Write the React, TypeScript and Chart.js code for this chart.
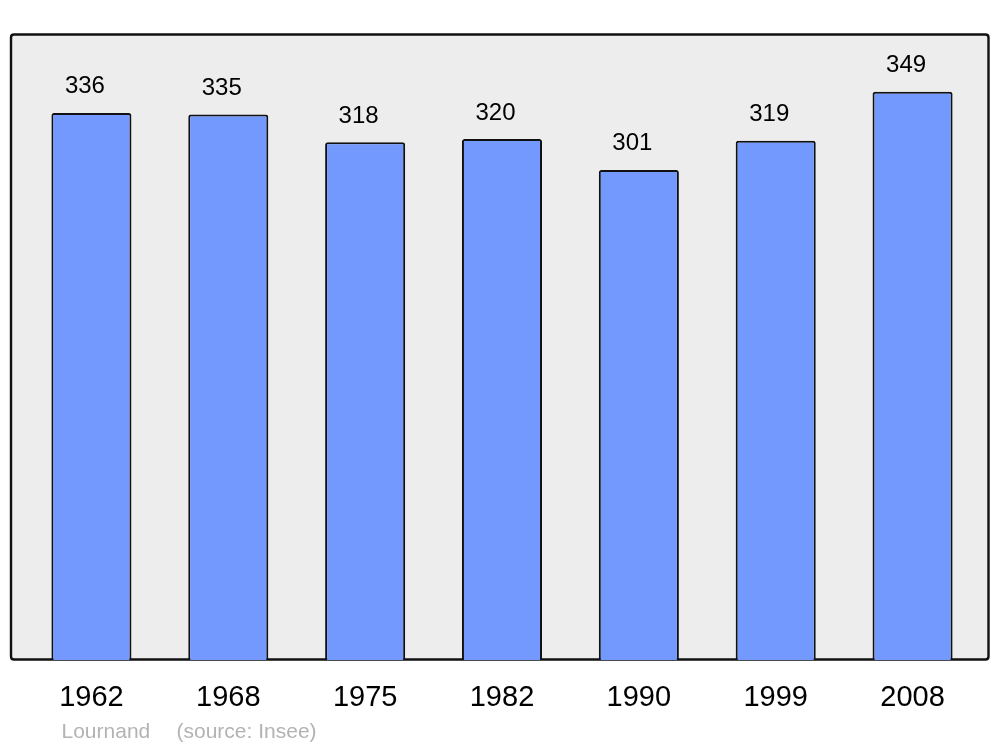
import React, { useEffect, useRef } from "react";
import { Chart, registerables } from "chart.js";

Chart.register(...registerables);

const years = ["1962", "1968", "1975", "1982", "1990", "1999", "2008"];
const population = [336, 335, 318, 320, 301, 319, 349];
const footerName = "Lournand";
const footerSource = "(source: Insee)";

const framePlugin = {
  id: "frame",
  beforeDatasetsDraw(chart: any) {
    const { ctx } = chart;
    const l = 11, r = 988.5, t = 34.5, b = 659.5, rad = 3;
    ctx.save();
    ctx.beginPath();
    ctx.moveTo(l + rad, t);
    ctx.lineTo(r - rad, t);
    ctx.quadraticCurveTo(r, t, r, t + rad);
    ctx.lineTo(r, b - rad);
    ctx.quadraticCurveTo(r, b, r - rad, b);
    ctx.lineTo(l + rad, b);
    ctx.quadraticCurveTo(l, b, l, b - rad);
    ctx.lineTo(l, t + rad);
    ctx.quadraticCurveTo(l, t, l + rad, t);
    ctx.closePath();
    ctx.fillStyle = "#ededed";
    ctx.fill();
    ctx.lineWidth = 2.4;
    ctx.strokeStyle = "#111111";
    ctx.stroke();
    ctx.restore();
  },
  afterDatasetsDraw(chart: any) {
    const { ctx } = chart;
    const meta = chart.getDatasetMeta(0);
    ctx.save();
    ctx.font = "24px 'Liberation Sans', Arial, sans-serif";
    ctx.fillStyle = "#000";
    ctx.textAlign = "center";
    ctx.textBaseline = "alphabetic";
    meta.data.forEach((bar: any, i: number) => {
      ctx.fillText(String(population[i]), bar.x - 6.5, bar.y - 19.5);
    });
    ctx.font = "21px 'Liberation Sans', Arial, sans-serif";
    ctx.fillStyle = "#b3b3b3";
    ctx.textAlign = "left";
    ctx.fillText(footerName, 61.5, 737.5);
    ctx.fillText(footerSource, 176.5, 737.5);
    ctx.restore();
  },
};

export default function App() {
  const ref = useRef<HTMLCanvasElement | null>(null);
  useEffect(() => {
    if (!ref.current) return;
    const chart = new Chart(ref.current, {
      type: "bar",
      data: {
        labels: years,
        datasets: [
          {
            data: population,
            backgroundColor: "#7399ff",
            borderColor: "#111111",
            borderWidth: 2,
            borderRadius: 2.5,
            borderSkipped: "start",
            categoryPercentage: 1,
            barPercentage: 0.585,
          },
        ],
      },
      options: {
        responsive: false,
        animation: false,
        layout: { padding: { left: 23, right: 19, top: 34, bottom: 0 } },
        plugins: { legend: { display: false }, tooltip: { enabled: false }, title: { display: false } },
        scales: {
          y: { display: false, min: 0, max: 384.5 },
          x: {
            grid: { display: false },
            border: { display: false },
            ticks: {
              color: "#000",
              padding: 13,
              font: { family: "'Liberation Sans', Arial, sans-serif", size: 29 },
              maxRotation: 0,
            },
            afterFit: (scale: any) => {
              scale.height = 747 - 660;
            },
          },
        },
      },
      plugins: [framePlugin],
    });
    return () => chart.destroy();
  }, []);
  return (
    <div style={{ position: "absolute", left: 0, top: 0, width: 1000, height: 747, background: "#fff" }}>
      <canvas ref={ref} width={1000} height={747} />
    </div>
  );
}
